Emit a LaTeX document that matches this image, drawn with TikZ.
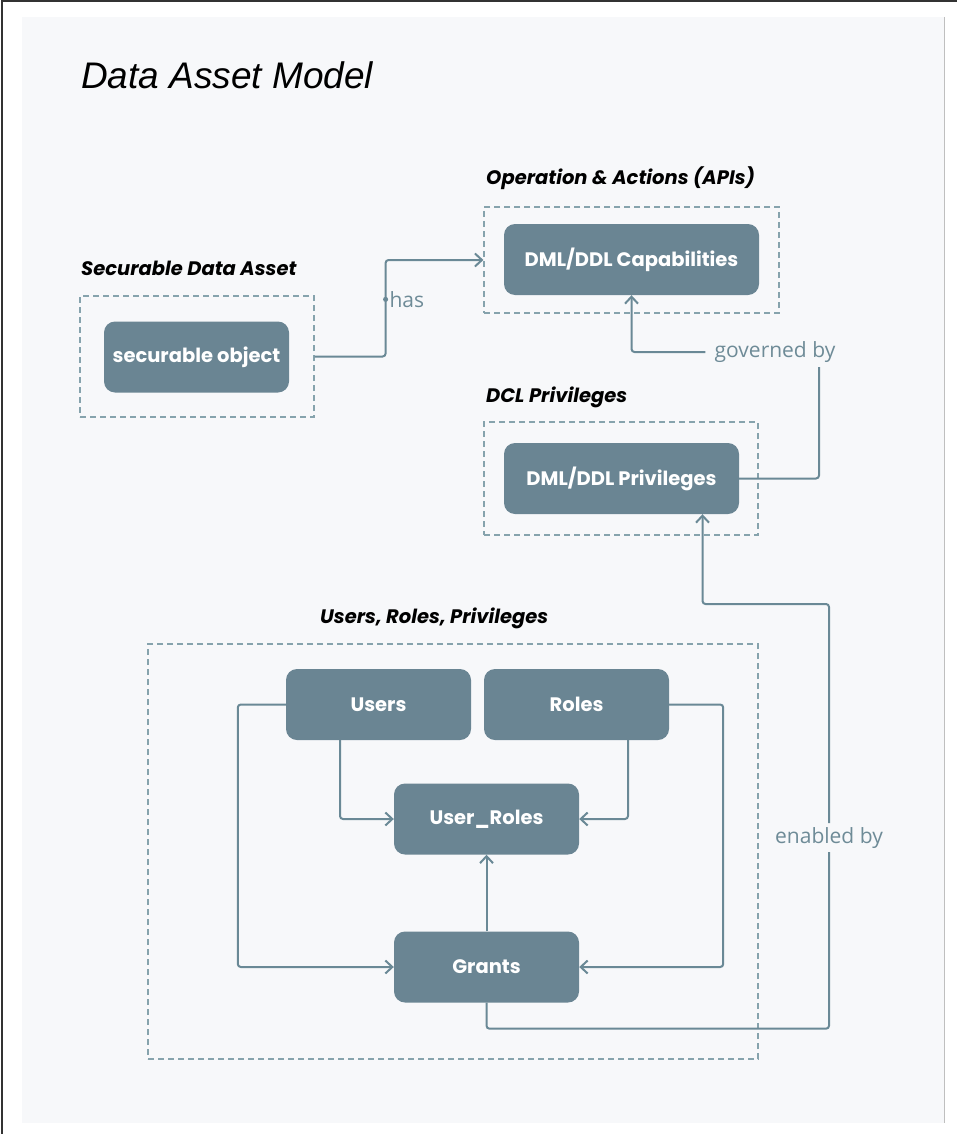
\documentclass[tikz,border=0pt]{standalone}
\usepackage{fontspec}
\setmainfont{Open Sans}
\newfontfamily\popfont{Poppins}
\newfontfamily\titlefont{Liberation Sans}
\usetikzlibrary{arrows.meta,positioning}
\definecolor{panelbg}{HTML}{F7F8FA}
\definecolor{boxfill}{HTML}{6A8593}
\definecolor{linecol}{HTML}{6A8996}
\definecolor{dashcol}{HTML}{86A3AD}
\definecolor{lblcol}{HTML}{6E8B97}
\tikzset{
  entity/.style={fill=boxfill, rounded corners=11pt, minimum height=71pt, minimum width=185pt,
    text=white, font=\popfont\bfseries\fontsize{19.5}{22}\selectfont},
  frame/.style={draw=dashcol, dash pattern=on 6pt off 4pt, line width=1.2pt},
  heading/.style={font=\popfont\bfseries\itshape\fontsize{19.5}{22}\selectfont, anchor=base west, inner sep=0pt},
  conn/.style={draw=linecol, line width=2pt, rounded corners=3pt},
  arr/.style={conn, -{Straight Barb[length=7pt,width=13pt,line width=2pt]}},
  lbl/.style={text=lblcol, font=\fontsize{21}{24}\selectfont, inner sep=1pt},
  dot/.style={circle, fill=linecol, inner sep=1.8pt},
}
\begin{document}
\begin{tikzpicture}[x=1pt,y=-1pt]
\useasboundingbox (0,0) rectangle (957,1134);
\fill[panelbg] (22,17) rectangle (944,1123);
\draw[black!80, line width=2pt] (1.5,1134) -- (1.5,1.5) -- (957,1.5);
\draw[black!25, line width=1pt] (944,17) -- (944,1123);

\node[anchor=base west, inner sep=0pt, font=\titlefont\itshape\fontsize{37}{42}\selectfont] (title) at (81,89) {Data Asset Model};

% dashed groups
\node[frame, minimum width=234pt, minimum height=121pt] (secF) at (197,356.5) {};
\node[frame, minimum width=295pt, minimum height=106pt] (opsF) at (631.5,260) {};
\node[frame, minimum width=274pt, minimum height=113pt] (dclF) at (621,478.5) {};
\node[frame, minimum width=610pt, minimum height=415pt] (urpF) at (453,851.5) {};

\node[heading] (secH) at (81,275) {Securable Data Asset};
\node[heading] (opsH) at (486,185) {Operation \& Actions (APIs)};
\node[heading] (dclH) at (486,402) {DCL Privileges};
\node[heading] (urpH) at (320,623) {Users, Roles, Privileges};

% entities
\node[entity] (obj) at (196.5,357) {securable object};
\node[entity, minimum width=255pt] (cap) at (631.5,259.5) {DML/DDL Capabilities};
\node[entity, minimum width=235pt] (priv) at (621.5,478.5) {DML/DDL Privileges};
\node[entity] (users) at (378.5,704.5) {Users};
\node[entity] (roles) at (576.5,704.5) {Roles};
\node[entity] (uroles) at (486.5,819) {User\_Roles};
\node[entity] (grants) at (486.5,967) {Grants};

% labels on the long connectors
\node[lbl] (gov) at (775,352) {governed by};
\node[lbl] (enab) at (829,838) {enabled by};
\coordinate (govend) at (819,367);
\coordinate (entop) at (829,823);
\coordinate (enbot) at (829,852);
\coordinate (enturn) at (829,604);

\draw[arr] (secF.east) -- ++(71,0) |- node[pos=.296, dot] {} node[pos=.296, lbl, right=2pt] {has} (opsF.west);
\draw[conn] (priv.east) -| (govend);
\draw[arr] ([xshift=-8pt]gov.west) -| (cap.south);
\draw[conn] (grants.south) -- ++(0,26) -| (enbot);
\draw[arr] (entop) -- (enturn) -| ([xshift=81pt]priv.south);

\draw[arr] (users.west) -- ++(-48,0) |- (grants.west);
\draw[arr] ([xshift=-38.5pt]users.south) |- (uroles.west);
\draw[arr] ([xshift=51.5pt]roles.south) |- (uroles.east);
\draw[arr] (roles.east) -- ++(54,0) |- (grants.east);
\draw[arr] (grants.north) -- (uroles.south);
\end{tikzpicture}
\end{document}
